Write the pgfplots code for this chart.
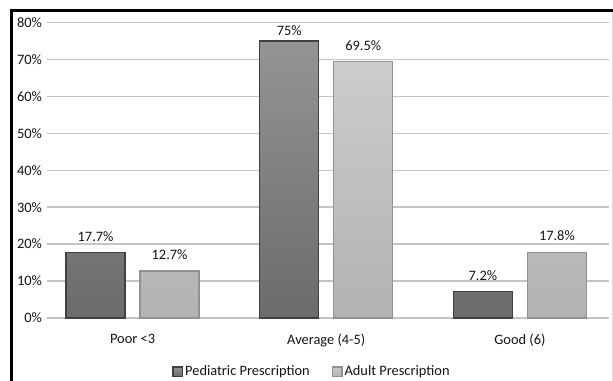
\documentclass[border=0pt]{standalone}
\usepackage{pgfplots}
\pgfplotsset{compat=1.18}
\usepackage{fontspec}
\setmainfont{Carlito}
\definecolor{gridc}{HTML}{C4C4C4}
\definecolor{txt}{HTML}{141414}
\newcommand\lowlab[1]{\raisebox{-6.5bp}[0pt][0pt]{#1}}
\begin{document}
\fontsize{14.4bp}{17bp}\selectfont
\begin{tikzpicture}
\begin{axis}[
  at={(0,0)}, anchor=south west,
  scale only axis, width=562bp, height=295.5bp,
  xmin=-0.442, xmax=2.460, ymin=0, ymax=80,
  ybar=15bp, bar width=59bp,
  xtick={0,1,2}, xticklabels={Poor <3, Average (4-5), Good (6)},
  ytick={0,10,...,80},
  yticklabel={\pgfmathprintnumber[assume math mode=true]{\tick}\%},
  /pgf/number format/assume math mode=true,
  major tick length=0pt,
  axis line style={draw=none},
  ymajorgrids, grid style={gridc, line width=1.4bp},
  tick label style={font=\fontsize{14.4bp}{17bp}\selectfont, text=txt},
  xticklabel style={yshift=-11bp},
  yticklabel style={xshift=0bp},
  point meta=explicit symbolic,
  nodes near coords={\pgfplotspointmeta},
  every node near coord/.append style={font=\fontsize{14.4bp}{17bp}\selectfont, text=txt, inner sep=0pt, yshift=10.5bp},
  legend style={at={(axis description cs:0.4715,-0.1827)}, anchor=center, draw=none, fill=none,
    legend columns=2, font=\fontsize{14.4bp}{17bp}\selectfont, text=txt,
    /tikz/every even column/.append style={column sep=20bp}},
  legend image code/.code={\draw[#1] (0bp,-4.5bp) rectangle (9.5bp,5bp);},
  legend cell align=left,
]
\addplot[draw=black!75, line width=1.3bp, top color=black!42, bottom color=black!58]
  coordinates {(0,17.7) [17.7\%] (1,75) [\lowlab{75\%}] (2,7.2) [7.2\%]};
\addplot[draw=black!43, line width=1.3bp, top color=black!20, bottom color=black!30]
  coordinates {(0,12.7) [12.7\%] (1,69.5) [69.5\%] (2,17.8) [17.8\%]};
\legend{Pediatric Prescription, Adult Prescription}
\end{axis}
\draw[line width=3bp, black] (-35.5bp,-63bp) -- (-35.5bp,309bp);
\draw[line width=3bp, black] (-37bp,307.5bp) -- (566bp,307.5bp);
\draw[line width=1bp, black!15] (565bp,306bp) -- (565bp,-63bp);
\pgfresetboundingbox
\useasboundingbox (-47bp,-63bp) rectangle (566bp,318bp);
\end{tikzpicture}
\end{document}
